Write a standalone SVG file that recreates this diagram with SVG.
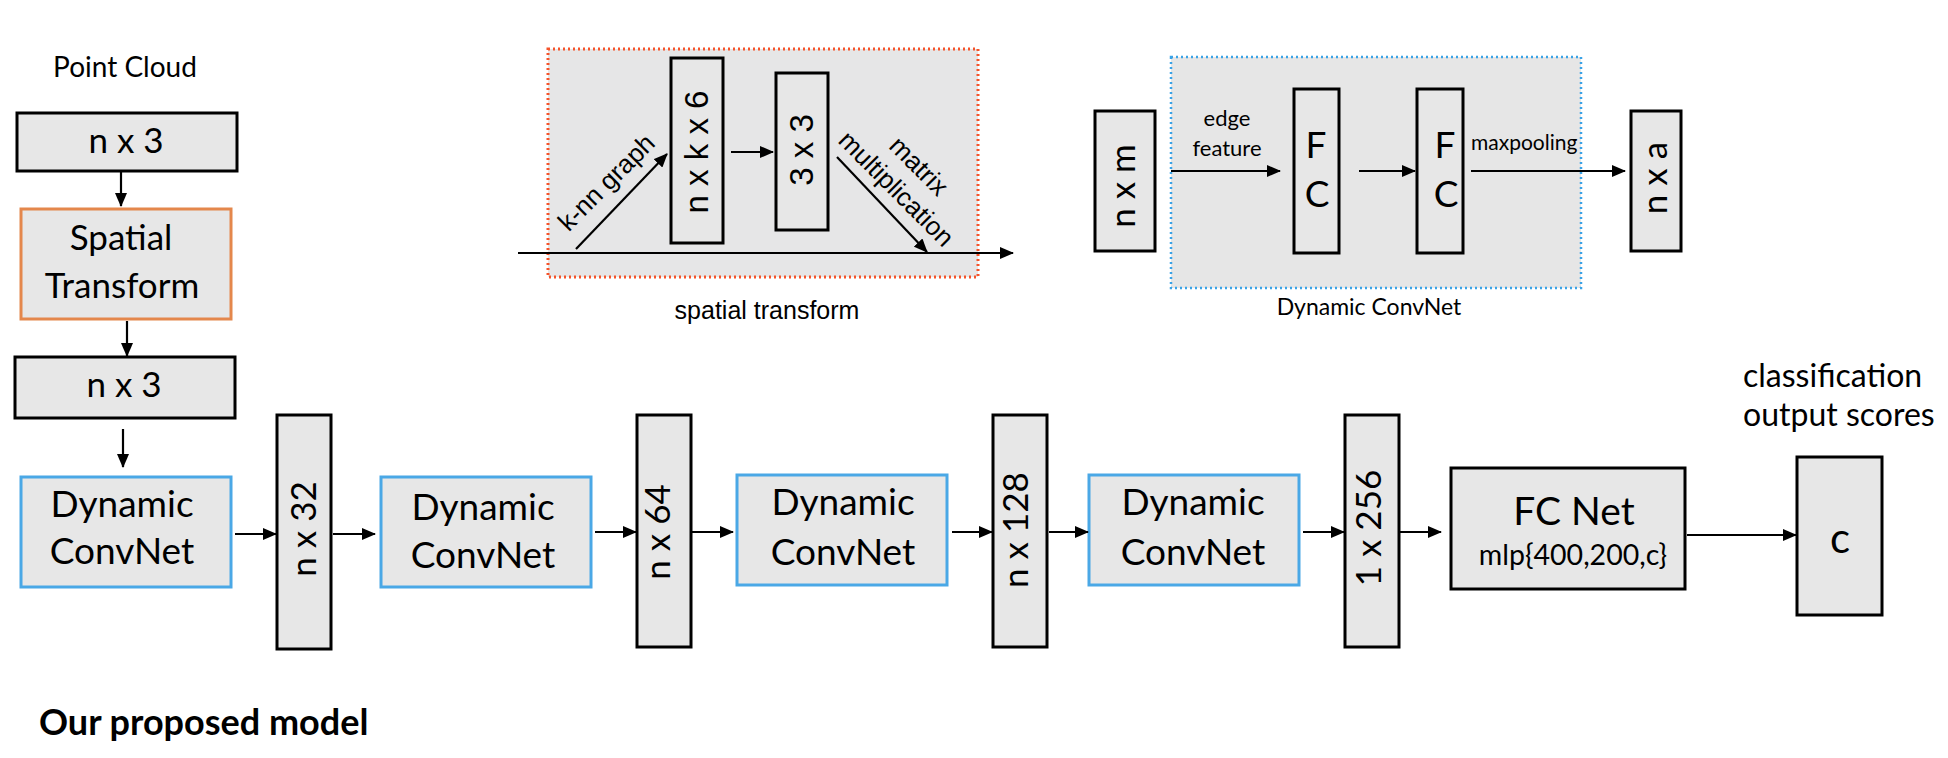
<svg xmlns="http://www.w3.org/2000/svg" width="1948" height="758" viewBox="0 0 1948 758">
<style>
.box{fill:#e7e7e7;stroke:#000;stroke-width:3}
.dc{fill:#e7e7e7;stroke:#4aa8e6;stroke-width:3}
.st{fill:#e7e7e7;stroke:#e4874c;stroke-width:3}
.cal{font-family:Lato,"Liberation Sans",sans-serif;fill:#000}
.ari{font-family:"Liberation Sans",Arial,sans-serif;fill:#000}
.mid{text-anchor:middle}
.ln{stroke:#000;stroke-width:2.2;fill:none;marker-end:url(#ah)}
</style>
<defs>
<marker id="ah" markerUnits="userSpaceOnUse" markerWidth="14" markerHeight="12" refX="13" refY="6" orient="auto">
<path d="M0,0 L14,6 L0,12 z" fill="#000"/>
</marker>
</defs>
<rect width="1948" height="758" fill="#fff"/>

<text class="cal mid" x="125" y="77" font-size="28">Point Cloud</text>

<g id="input-nx3">
<rect class="box" x="17" y="113" width="220" height="58"/>
<text class="cal mid" x="126" y="153" font-size="35">n x 3</text>
</g>
<g id="spatial-transform-node">
<rect class="st" x="21" y="209" width="210" height="110"/>
<text class="cal mid" x="121" y="250" font-size="35">Spatial</text>
<text class="cal mid" x="122" y="298" font-size="35">Transform</text>
</g>
<g id="transformed-nx3">
<rect class="box" x="15" y="357" width="220" height="61"/>
<text class="cal mid" x="124" y="397" font-size="35">n x 3</text>
</g>

<g id="dc1">
<rect class="dc" x="21" y="477" width="210" height="110"/>
<text class="cal mid" x="122" y="517" font-size="37">Dynamic</text>
<text class="cal mid" x="122" y="564" font-size="37">ConvNet</text>
</g>
<g id="n32">
<rect class="box" x="277" y="415" width="54" height="234"/>
<text class="cal mid" transform="translate(316,529) rotate(-90)" font-size="35">n x 32</text>
</g>
<g id="dc2">
<rect class="dc" x="381" y="477" width="210" height="110"/>
<text class="cal mid" x="483" y="520" font-size="37">Dynamic</text>
<text class="cal mid" x="483" y="568" font-size="37">ConvNet</text>
</g>
<g id="n64">
<rect class="box" x="637" y="415" width="54" height="232"/>
<text class="cal mid" transform="translate(670,532) rotate(-90)" font-size="35">n x 64</text>
</g>
<g id="dc3">
<rect class="dc" x="737" y="475" width="210" height="110"/>
<text class="cal mid" x="843" y="515" font-size="37">Dynamic</text>
<text class="cal mid" x="843" y="565" font-size="37">ConvNet</text>
</g>
<g id="n128">
<rect class="box" x="993" y="415" width="54" height="232"/>
<text class="cal mid" transform="translate(1028,530) rotate(-90)" font-size="35">n x 128</text>
</g>
<g id="dc4">
<rect class="dc" x="1089" y="475" width="210" height="110"/>
<text class="cal mid" x="1193" y="515" font-size="37">Dynamic</text>
<text class="cal mid" x="1193" y="565" font-size="37">ConvNet</text>
</g>
<g id="n256">
<rect class="box" x="1345" y="415" width="54" height="232"/>
<text class="cal mid" transform="translate(1381,528) rotate(-90)" font-size="35">1 x 256</text>
</g>
<g id="fcnet">
<rect class="box" x="1451" y="468" width="234" height="121"/>
<text class="cal mid" x="1574" y="525" font-size="39">FC Net</text>
<text class="cal mid" x="1573" y="565" font-size="28.5">mlp{400,200,c}</text>
</g>
<g id="output-c">
<rect class="box" x="1797" y="457" width="85" height="158"/>
<text class="cal mid" x="1840" y="553" font-size="42">c</text>
</g>
<text class="cal" x="1743" y="387" font-size="32">classification</text>
<text class="cal" x="1743" y="426" font-size="32">output scores</text>

<text class="cal" x="39" y="735" font-size="36" font-weight="bold">Our proposed model</text>

<g id="spatial-transform-detail">
<rect x="548" y="49" width="430" height="228" fill="#e6e6e7" stroke="#f5532a" stroke-width="3" stroke-dasharray="2 3"/>
<rect class="box" x="671" y="58" width="52" height="185" fill="none"/>
<text class="ari mid" transform="translate(708,152) rotate(-90)" font-size="33">n x k x 6</text>
<rect class="box" x="776" y="73" width="52" height="157" fill="none"/>
<text class="ari mid" transform="translate(813,150) rotate(-90)" font-size="33">3 x 3</text>
<text class="ari mid" transform="translate(607,183) rotate(-45)" y="8" font-size="26">k-nn graph</text>
<g transform="translate(907,178) rotate(45)">
<text class="ari mid" x="0" y="-8" font-size="26">matrix</text>
<text class="ari mid" x="0" y="24" font-size="26">multiplication</text>
</g>
<text class="ari mid" x="767" y="319" font-size="25">spatial transform</text>
</g>

<g id="dynamic-convnet-detail">
<rect x="1171" y="57" width="410" height="231" fill="#e6e6e6" stroke="#3aa2e6" stroke-width="2.5" stroke-dasharray="2 3"/>
<rect class="box" x="1095" y="111" width="60" height="140"/>
<text class="cal mid" transform="translate(1135,186) rotate(-90)" font-size="35">n x m</text>
<text class="cal mid" x="1227" y="126" font-size="22">edge</text>
<text class="cal mid" x="1227" y="156" font-size="22">feature</text>
<rect class="box" x="1294" y="89" width="45" height="164" fill="none"/>
<text class="cal mid" x="1316" y="158" font-size="37">F</text>
<text class="cal mid" x="1317" y="207" font-size="37">C</text>
<rect class="box" x="1417" y="89" width="46" height="164" fill="none"/>
<text class="cal mid" x="1445" y="158" font-size="37">F</text>
<text class="cal mid" x="1446" y="207" font-size="37">C</text>
<text class="cal" x="1471" y="150" font-size="21">maxpooling</text>
<rect class="box" x="1631" y="111" width="50" height="140"/>
<text class="cal mid" transform="translate(1667,178) rotate(-90)" font-size="35">n x a</text>
<text class="cal mid" x="1369" y="315" font-size="23">Dynamic ConvNet</text>
</g>

<g id="connectors">
<line class="ln" x1="121" y1="171" x2="121" y2="206"/>
<line class="ln" x1="127" y1="321" x2="127" y2="356"/>
<line class="ln" x1="123" y1="429" x2="123" y2="467"/>
<line class="ln" x1="235" y1="534" x2="276" y2="534"/>
<line class="ln" x1="333" y1="534" x2="375" y2="534"/>
<line class="ln" x1="595" y1="532" x2="636" y2="532"/>
<line class="ln" x1="692" y1="532" x2="733" y2="532"/>
<line class="ln" x1="952" y1="532" x2="992" y2="532"/>
<line class="ln" x1="1049" y1="532" x2="1088" y2="532"/>
<line class="ln" x1="1303" y1="532" x2="1344" y2="532"/>
<line class="ln" x1="1400" y1="532" x2="1441" y2="532"/>
<line class="ln" x1="1687" y1="535" x2="1796" y2="535"/>
<line class="ln" x1="518" y1="253" x2="1013" y2="253"/>
<line class="ln" x1="576" y1="249" x2="667" y2="154"/>
<line class="ln" x1="731" y1="152" x2="773" y2="152"/>
<line class="ln" x1="837" y1="157" x2="927" y2="252"/>
<line class="ln" x1="1171" y1="171" x2="1280" y2="171"/>
<line class="ln" x1="1359" y1="171" x2="1415" y2="171"/>
<line class="ln" x1="1471" y1="171" x2="1625" y2="171"/>
</g>
</svg>
